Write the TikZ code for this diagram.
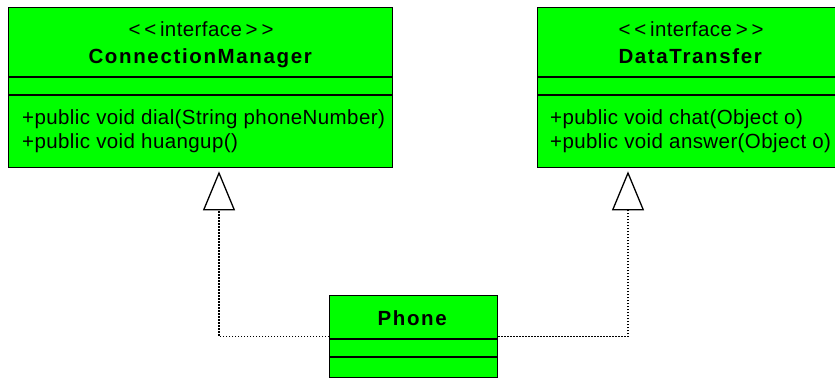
\documentclass[tikz,border=0pt]{standalone}
\usepackage{fontspec}
\setmainfont{Liberation Sans}[Ligatures=TeXOff,LetterSpace=2,BoldFeatures={LetterSpace=8}]
\usetikzlibrary{arrows.meta}
\definecolor{umlgreen}{RGB}{0,255,0}
\newcommand{\stereo}[1]{<\kern3.8pt<\kern3.8pt#1\kern3.8pt>\kern3.8pt>}

\begin{document}
\begin{tikzpicture}[x=1pt,y=-1pt,
  classbox/.style={draw,fill=umlgreen,line width=1.3pt,inner sep=0pt,anchor=north west},
  sepline/.style={line width=1.3pt},
  lbl/.style={inner sep=0pt,font=\fontsize{20.5}{24}\selectfont},
  realize/.style={line width=1.2pt,dash pattern=on 1.2pt off 1.8pt,
    -{Triangle[open,width=32pt,length=39pt,line width=1.3pt]}}]
\useasboundingbox (0,0) rectangle (835,378);
\clip (0,0) rectangle (835,378);
\node[classbox,minimum width=384pt,minimum height=160pt] (cm) at (8,7) {};
\draw[sepline] ([yshift=-70pt]cm.north west) -- ([yshift=-70pt]cm.north east);
\draw[sepline] ([yshift=-88pt]cm.north west) -- ([yshift=-88pt]cm.north east);
\node[lbl,anchor=base] (cmstereo) at (201,36) {\stereo{interface}};
\node[lbl,anchor=base] (cmname) at (201,63) {\textbf{ConnectionManager}};
\node[lbl,anchor=base west] (cmdial) at (22,124) {+public void dial(String phoneNumber)};
\node[lbl,anchor=base west] (cmhang) at (22,148) {+public void huangup()};

\node[classbox,minimum width=308pt,minimum height=160pt] (dt) at (537,7) {};
\draw[sepline] ([yshift=-70pt]dt.north west) -- ([yshift=-70pt]dt.north east);
\draw[sepline] ([yshift=-88pt]dt.north west) -- ([yshift=-88pt]dt.north east);
\node[lbl,anchor=base] (dtstereo) at (691,36) {\stereo{interface}};
\node[lbl,anchor=base] (dtname) at (691,63) {\textbf{DataTransfer}};
\node[lbl,anchor=base west] (dtchat) at (550,124) {+public void chat(Object o)};
\node[lbl,anchor=base west] (dtanswer) at (550,148) {+public void answer(Object o)};

\node[classbox,minimum width=168pt,minimum height=82pt] (ph) at (329,295) {};
\draw[sepline] ([yshift=-44pt]ph.north west) -- ([yshift=-44pt]ph.north east);
\draw[sepline] ([yshift=-62pt]ph.north west) -- ([yshift=-62pt]ph.north east);
\node[lbl,anchor=base] (phname) at (413,325) {\textbf{Phone}};

\draw[realize] (ph.west) -| ([xshift=211pt,yshift=-3pt]cm.south west);
\draw[realize] (ph.east) -| ([xshift=91pt,yshift=-3pt]dt.south west);
\end{tikzpicture}
\end{document}
